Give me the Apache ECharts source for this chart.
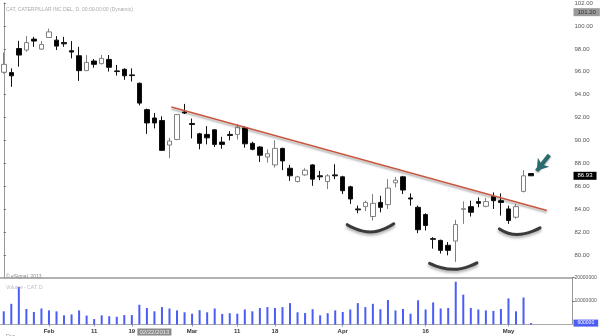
<!DOCTYPE html>
<html>
<head>
<meta charset="utf-8">
<script src="https://cdn.jsdelivr.net/npm/echarts@6/dist/echarts.min.js"></script>
<style>
html,body{margin:0;padding:0;background:#fff;}
#c{width:600px;height:336px;}
</style>
</head>
<body>
<div id="c"></div>
<script>
const dates = ['2013-01-24','2013-01-25','2013-01-28','2013-01-29','2013-01-30','2013-01-31','2013-02-01','2013-02-04','2013-02-05','2013-02-06','2013-02-07','2013-02-08','2013-02-11','2013-02-12','2013-02-13','2013-02-14','2013-02-15','2013-02-19','2013-02-20','2013-02-21','2013-02-22','2013-02-25','2013-02-26','2013-02-27','2013-02-28','2013-03-01','2013-03-04','2013-03-05','2013-03-06','2013-03-07','2013-03-08','2013-03-11','2013-03-12','2013-03-13','2013-03-14','2013-03-15','2013-03-18','2013-03-19','2013-03-20','2013-03-21','2013-03-22','2013-03-25','2013-03-26','2013-03-27','2013-03-28','2013-04-01','2013-04-02','2013-04-03','2013-04-04','2013-04-05','2013-04-08','2013-04-09','2013-04-10','2013-04-11','2013-04-12','2013-04-15','2013-04-16','2013-04-17','2013-04-18','2013-04-19','2013-04-22','2013-04-23','2013-04-24','2013-04-25','2013-04-26','2013-04-29','2013-04-30','2013-05-01','2013-05-02','2013-05-03','2013-05-06'];
const futureDates = ['2013-05-07','2013-05-08','2013-05-09','2013-05-10','2013-05-13'];

const opens  = [95.96,95.93,98.03,97.90,98.85,97.98,98.99,98.76,98.55,97.84,97.40,96.10,96.94,96.71,97.08,96.08,96.22,95.73,95.00,92.70,91.97,91.75,89.61,90.10,92.49,91.49,90.59,90.54,90.94,89.87,90.54,90.54,91.11,89.76,89.44,88.57,87.88,89.32,87.59,86.43,87.01,87.88,86.93,86.43,87.01,86.84,85.97,84.04,84.24,83.38,84.61,84.42,86.32,86.84,85.00,84.18,83.55,81.45,81.30,80.87,81.24,84.00,84.24,84.68,84.27,85.11,84.76,84.04,83.32,85.57,87.13];
const closes = [96.65,95.65,97.46,98.55,98.68,98.38,99.48,98.24,98.44,97.72,96.10,96.82,96.65,97.17,96.39,96.02,95.65,95.67,93.27,91.54,91.54,89.15,89.96,92.27,92.41,91.40,89.76,90.24,89.67,89.67,90.45,91.17,89.72,89.24,88.72,88.86,89.32,88.23,86.93,86.84,87.42,86.64,86.84,86.93,86.93,85.63,84.91,83.96,84.61,84.53,84.18,85.86,86.55,85.69,84.91,82.23,82.60,81.39,80.43,80.43,82.68,84.06,83.75,84.53,84.68,84.76,84.61,83.03,84.24,86.93,86.93];
const lows   = [95.84,94.69,96.45,97.75,98.18,97.90,98.96,97.90,98.18,97.17,95.21,96.08,96.36,96.65,96.02,95.67,95.30,95.15,93.07,90.59,91.06,89.09,88.46,90.04,92.32,90.19,89.24,89.67,89.44,89.29,90.02,90.10,89.38,89.15,88.14,88.08,87.65,87.42,86.49,86.35,86.93,86.06,86.55,85.77,86.64,85.34,84.48,83.66,83.84,83.03,83.75,84.04,85.91,85.34,84.33,81.93,82.16,80.58,80.15,80.00,79.42,82.74,83.38,84.18,84.18,84.04,83.46,82.74,83.18,85.48,86.93];
const highs  = [97.69,96.30,98.70,99.13,99.05,98.68,99.77,99.11,99.05,98.68,98.18,97.46,97.12,97.46,97.46,96.60,96.30,96.30,95.06,92.79,92.41,92.12,90.24,92.32,93.20,91.92,90.68,91.26,91.00,90.33,90.82,91.45,91.26,89.90,89.52,89.24,90.02,89.38,87.88,86.93,87.59,87.94,87.36,87.07,87.94,86.93,86.06,84.33,84.76,85.34,85.19,86.64,86.84,86.93,85.40,84.33,83.66,81.58,81.36,81.15,83.09,84.70,84.76,85.05,85.00,85.48,85.40,84.33,84.47,87.42,87.13];
const volumes = [5.6,8.8,16.0,6.6,5.3,6.8,6.0,5.6,3.9,4.3,6.0,3.8,2.3,3.9,3.5,3.3,4.0,4.0,8.4,7.0,5.6,7.4,6.8,6.0,5.2,4.6,6.1,5.2,6.8,4.5,4.8,4.6,6.4,5.6,7.0,7.4,7.0,7.4,9.1,5.2,4.9,6.5,3.9,4.8,6.0,5.3,6.4,9.1,7.4,8.8,6.5,10.4,6.0,6.6,4.6,10.3,6.4,9.4,6.8,7.0,18.2,12.7,7.0,6.4,6.0,5.8,6.6,11.1,5.6,11.5,0.6].map(v => Math.round(v * 1000000));

const xTickLabels = {'2013-02-01':'Feb','2013-02-11':'11','2013-02-19':'19','2013-03-01':'Mar','2013-03-11':'11','2013-03-18':'18','2013-04-01':'Apr','2013-04-16':'16','2013-05-01':'May'};
const cursorDate = '2013-02-22';
const cursorLabel = '02/22/2013';

// annotations (index / price coordinates)
const trendLine = [[22.25, 92.93], [72.1, 83.90]];
const arc1 = [[45.6, 82.67], [48.68, 82.03], [51.77, 82.75]];
const arc2 = [[56.53, 79.29], [59.71, 78.77], [62.81, 79.34]];
const arc3 = [[65.8, 82.30], [68.15, 81.81], [71.19, 82.39]];
const arrowFrom = [72.42, 88.74];
const arrowTo = [70.75, 87.36];
const tagPrice1 = 101.20;
const lastPrice = 86.93;

const categories = dates.concat(futureDates);
const candleData = dates.map((d, i) => [opens[i], closes[i], lows[i], highs[i]]);

const FONT = 'Liberation Sans, Arial, sans-serif';
const gridLeft = -1.5, gridWidth = 574;

const chart = echarts.init(document.getElementById('c'), null, {renderer: 'canvas'});

function arcSeries(data) {
  return {
    type: 'line', xAxisIndex: 2, yAxisIndex: 0, data: data, smooth: true,
    symbol: 'none', silent: true, z: 5,
    lineStyle: {color: '#3a3a3a', width: 3, cap: 'round',
      shadowColor: 'rgba(0,0,0,0.35)', shadowBlur: 3, shadowOffsetY: 2}
  };
}
function tag(value, text, bg, fg, size) {
  return {yAxis: value,
    lineStyle: {color: 'rgba(0,0,0,0)', width: 0},
    label: {show: true, position: 'end', distance: 1, formatter: text,
      backgroundColor: bg, color: fg, fontSize: size, padding: [1, 4, 1, 4], fontFamily: FONT}};
}

const option = {
  animation: false,
  backgroundColor: '#fff',
  textStyle: {fontFamily: FONT},
  title: [
    {text: 'CAT, CATERPILLAR INC DEL, D, 00:00-00:00 (Dynamic)', left: 1, top: 2,
      textStyle: {fontSize: 5, color: '#aaa', fontWeight: 'normal', fontFamily: FONT}},
    {text: '© eSignal, 2013', left: 1, top: 269,
      textStyle: {fontSize: 5, color: '#888', fontWeight: 'normal', fontFamily: FONT}},
    {text: 'Volume - CAT, D', left: 1, top: 280,
      textStyle: {fontSize: 5, color: '#bbb', fontWeight: 'normal', fontFamily: FONT}},
    {text: 'Dys', left: 1, top: 328,
      textStyle: {fontSize: 5.5, color: '#999', fontWeight: 'normal', fontFamily: FONT}}
  ],
  grid: [
    {left: gridLeft, width: gridWidth, top: 1, height: 277.2},
    {left: gridLeft, width: gridWidth, top: 277.5, height: 47}
  ],
  xAxis: [
    {type: 'category', gridIndex: 0, data: categories, boundaryGap: true,
      axisLine: {show: true, lineStyle: {color: '#999', width: 1.5}},
      axisTick: {show: false}, axisLabel: {show: false}, splitLine: {show: false}},
    {type: 'category', gridIndex: 1, data: categories, boundaryGap: true, offset: 2.5,
      axisLine: {show: true, lineStyle: {color: '#aaa', width: 1}},
      axisTick: {show: true, alignWithLabel: true, length: 2, lineStyle: {color: '#999'},
        interval: (i, v) => !!xTickLabels[v]},
      axisLabel: {show: true, margin: 1.5, fontSize: 6, fontWeight: 'bold', color: '#333', fontFamily: FONT,
        interval: (i, v) => !!xTickLabels[v] || v === cursorDate,
        formatter: v => v === cursorDate ? '{c|' + cursorLabel + '}' : (xTickLabels[v] || ''),
        rich: {c: {backgroundColor: '#8a8a8a', color: '#eee', fontSize: 6, padding: [1, 2, 0, 2], fontWeight: 'normal', fontFamily: FONT}}},
      splitLine: {show: false}},
    {type: 'value', gridIndex: 0, min: -0.5, max: categories.length - 0.5, show: false}
  ],
  yAxis: [
    {type: 'value', gridIndex: 0, position: 'right', min: 78, max: 102, interval: 2,
      axisLine: {show: true, lineStyle: {color: '#999', width: 1}},
      axisTick: {show: true, length: 2, lineStyle: {color: '#666'}},
      axisLabel: {show: true, margin: 2, fontSize: 6, color: '#555', fontFamily: FONT, showMinLabel: false,
        formatter: v => v.toFixed(2)},
      splitLine: {show: false}},
    {type: 'value', gridIndex: 1, position: 'right', min: 0, max: 20000000, interval: 10000000,
      axisLine: {show: true, lineStyle: {color: '#999', width: 1}},
      axisTick: {show: true, length: 2, lineStyle: {color: '#666'}},
      axisLabel: {show: true, margin: 2, fontSize: 5, color: '#555', fontFamily: FONT, showMinLabel: false,
        formatter: v => String(v)},
      splitLine: {show: false}}
  ],
  series: [
    {type: 'candlestick', xAxisIndex: 0, yAxisIndex: 0, data: candleData, barWidth: 5, z: 3,
      itemStyle: {color: '#ffffff', color0: '#000000', borderColor: '#808080', borderColor0: '#111111', borderWidth: 1},
      markLine: {silent: true, symbol: 'none', animation: false,
        data: [
          tag(tagPrice1, tagPrice1.toFixed(2), '#9a9a9a', '#333', 6),
          tag(lastPrice, lastPrice.toFixed(2), '#000', '#fff', 6)
        ]}},
    {type: 'bar', xAxisIndex: 1, yAxisIndex: 1, data: volumes, barWidth: 2, z: 3,
      itemStyle: {color: '#4b5cf7'},
      markLine: {silent: true, symbol: 'none', animation: false,
        data: [tag(volumes[volumes.length - 1], String(volumes[volumes.length - 1]), '#4b5cf7', '#fff', 5)]}},
    {type: 'line', xAxisIndex: 2, yAxisIndex: 0, data: trendLine, symbol: 'none', silent: true, z: 4,
      lineStyle: {color: '#c9573f', width: 1.5, shadowColor: 'rgba(0,0,0,0.35)', shadowBlur: 2, shadowOffsetY: 2},
      markLine: {silent: true, animation: false, symbol: ['none', 'arrow'], symbolSize: 11,
        lineStyle: {color: '#2b6b70', width: 4, type: 'solid', shadowColor: 'rgba(0,0,0,0.4)', shadowBlur: 2, shadowOffsetY: 1},
        label: {show: false},
        data: [[{coord: arrowFrom}, {coord: arrowTo}]]}},
    arcSeries(arc1),
    arcSeries(arc2),
    arcSeries(arc3)
  ]
};
chart.setOption(option);
</script>
</body>
</html>
